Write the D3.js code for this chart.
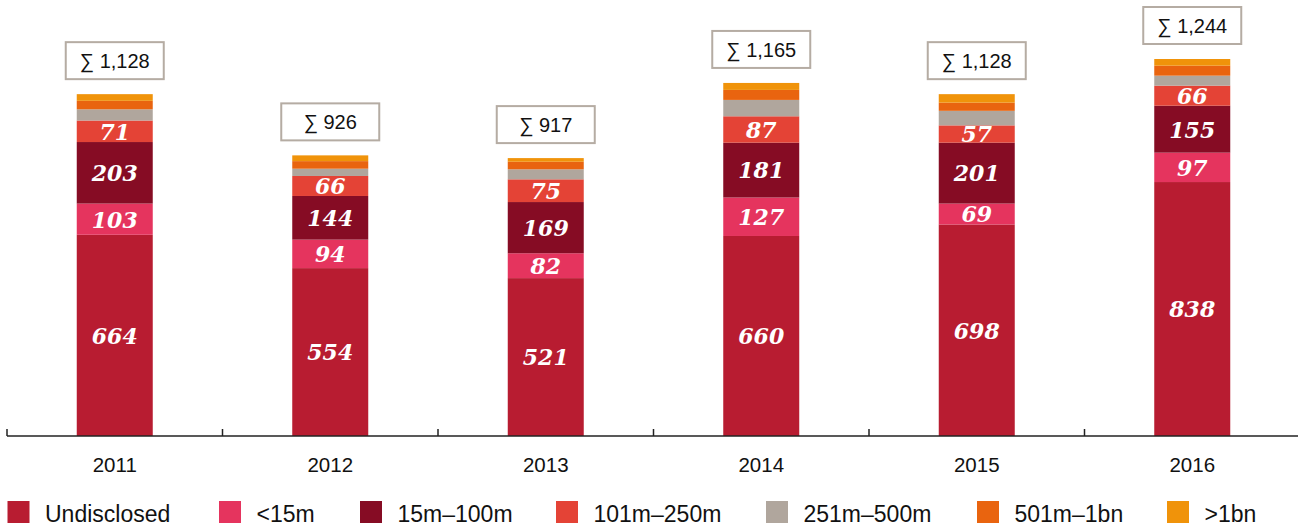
<!DOCTYPE html>
<html><head><meta charset="utf-8">
<script src="https://cdn.jsdelivr.net/npm/d3@7"></script>
<style>
html,body{margin:0;padding:0;background:#fff;}
svg{display:block;}
</style></head>
<body>
<svg id="chart" width="1298" height="527"></svg>
<script>
const years = ["2011","2012","2013","2014","2015","2016"];
const seriesNames = ["Undisclosed","<15m","15m\u2013100m","101m\u2013250m","251m\u2013500m","501m\u20131bn",">1bn"];
const colors = ["#b81c31","#e5345e","#860c24","#e44336","#b0a69d","#e9640f","#f0930a"];
const undisclosed = [664,554,521,660,698,838];
const under15 = [103,94,82,127,69,97];
const m15to100 = [203,144,169,181,201,155];
const m101to250 = [71,66,75,87,57,66];
const m251to500 = [37,24,33,54,48,33];
const m501to1bn = [28,25,25,33,27,33];
const over1bn = [22,19,12,23,28,22];
const totals = [1128,926,917,1165,1128,1244];
const labelledSeries = 4;

const seriesValues = [undisclosed,under15,m15to100,m101to250,m251to500,m501to1bn,over1bn];
const rows = years.map((y,i)=>{const r={year:y}; seriesNames.forEach((s,k)=>r[s]=seriesValues[k][i]); return r;});
const stack = d3.stack().keys(seriesNames)(rows);

const svg = d3.select("#chart");
const x = d3.scaleBand().domain(years).range([7,1300]).paddingInner(0).paddingOuter(0);
const y = d3.scaleLinear().domain([0,1244]).range([436,59]);
const barW = 76;

const g = svg.append("g");
stack.forEach((layer,k)=>{
  g.selectAll(null).data(layer).enter().append("rect")
    .attr("x",d=>x(d.data.year)+x.bandwidth()/2-barW/2)
    .attr("width",barW)
    .attr("y",d=>y(d[1]))
    .attr("height",d=>y(d[0])-y(d[1]))
    .attr("fill",colors[k]);
  if(k<labelledSeries){
    g.selectAll(null).data(layer).enter().append("text")
      .attr("x",d=>x(d.data.year)+x.bandwidth()/2)
      .attr("y",d=>(y(d[0])+y(d[1]))/2)
      .attr("dy","0.38em")
      .attr("text-anchor","middle")
      .attr("fill","#fff")
      .style("font-family","'DejaVu Serif', 'Liberation Serif', serif")
      .style("font-weight","bold").style("font-style","italic")
      .style("font-size","22px")
      .text(d=>d[1]-d[0]);
  }
});

// sum boxes
const boxW=98, boxH=37, gap=15;
const boxes = svg.append("g").selectAll("g").data(years).enter().append("g");
boxes.append("rect")
  .attr("x",(d)=>x(d)+x.bandwidth()/2-boxW/2)
  .attr("y",(d,i)=>y(totals[i])-gap-boxH)
  .attr("width",boxW).attr("height",boxH)
  .attr("fill","#fff").attr("stroke","#b5aca3").attr("stroke-width",2);
boxes.append("text")
  .attr("x",(d)=>x(d)+x.bandwidth()/2)
  .attr("y",(d,i)=>y(totals[i])-gap-boxH/2)
  .attr("dy","0.36em").attr("text-anchor","middle")
  .style("font-family","'Liberation Sans', Arial, sans-serif")
  .style("font-size","20px").attr("fill","#111")
  .text((d,i)=>"\u2211 "+d3.format(",")(totals[i]));

// axis
const ax = svg.append("g").attr("transform","translate(0,436)");
ax.append("line").attr("x1",7).attr("x2",1298).attr("stroke","#222").attr("stroke-width",1.5);
ax.selectAll(null).data(years).enter().append("line")
  .attr("x1",d=>x(d)).attr("x2",d=>x(d)).attr("y1",-7).attr("y2",0)
  .attr("stroke","#222").attr("stroke-width",1.5);
ax.selectAll(null).data(years).enter().append("text")
  .attr("x",d=>x(d)+x.bandwidth()/2).attr("y",36)
  .attr("text-anchor","middle")
  .style("font-family","'Liberation Sans', Arial, sans-serif")
  .style("font-size","20.5px").attr("fill","#111")
  .text(d=>d);

// legend
const legendX = [7.5,219,360,556,766,977,1167];
const leg = svg.append("g").selectAll("g").data(seriesNames).enter().append("g")
  .attr("transform",(d,i)=>`translate(${legendX[i]},501)`);
leg.append("rect").attr("width",22).attr("height",22).attr("fill",(d,i)=>colors[i]);
leg.append("text").attr("x",37.5).attr("y",20.5)
  .style("font-family","'Liberation Sans', Arial, sans-serif")
  .style("font-size","23px").attr("fill","#111")
  .text(d=>d);
</script>
</body></html>
